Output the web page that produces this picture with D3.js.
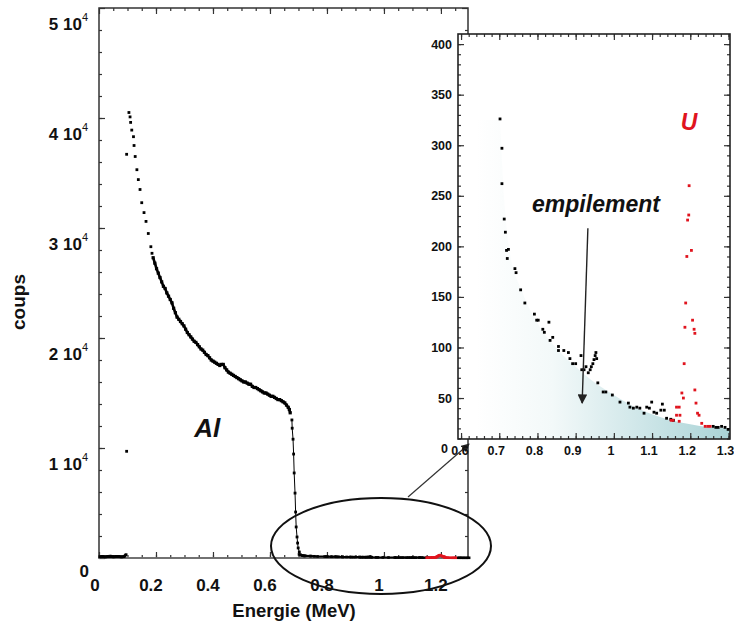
<!DOCTYPE html>
<html><head><meta charset="utf-8">
<script src="https://cdn.jsdelivr.net/npm/d3@7"></script>
<style>body{margin:0;background:#fff} svg{display:block} text{font-family:"Liberation Sans",Arial,sans-serif}</style>
</head><body><svg id="c" width="734" height="631"></svg>
<script>
// ---------- DATA (energy MeV, counts) ----------
const alBaseline = [[0.003,120],[0.012,140],[0.022,110],[0.031,130],[0.041,150],[0.050,120],[0.060,140],[0.069,130],[0.079,110],[0.088,140],[0.095,300]];
const alIsolated = [[0.097,36700],[0.097,9700]];
const alSparse = [[0.105,40500],[0.109,40100],[0.111,39600],[0.115,38900],[0.121,38300],[0.123,37500],[0.127,36500],[0.133,35300],[0.138,34400],[0.144,33500],[0.150,32300],[0.158,31400],[0.165,30600],[0.173,29500],[0.182,28300],[0.186,27700]];
const alDense = [[0.190,27300],[0.196,26800],[0.202,26300],[0.208,25900],[0.214,25500],[0.220,25100],[0.226,24700],[0.232,24500],[0.238,24100],[0.244,23800],[0.250,23500],[0.256,23200],[0.262,22700],[0.268,22300],[0.274,21900],[0.280,21700],[0.286,21500],[0.292,21300],[0.298,21100],[0.304,20800],[0.310,20500],[0.316,20300],[0.322,20100],[0.328,19900],[0.334,19700],[0.340,19600],[0.346,19400],[0.352,19200],[0.358,19000],[0.364,18900],[0.370,18700],[0.376,18500],[0.382,18400],[0.388,18200],[0.394,18000],[0.400,17900],[0.406,17800],[0.412,17700],[0.418,17600],[0.424,17500],[0.430,17600],[0.436,17600],[0.442,17300],[0.448,17100],[0.454,16900],[0.460,16800],[0.466,16700],[0.472,16600],[0.478,16500],[0.484,16400],[0.490,16300],[0.496,16200],[0.502,16100],[0.508,16000],[0.514,16000],[0.520,15900],[0.526,15800],[0.532,15800],[0.538,15600],[0.544,15500],[0.550,15500],[0.556,15400],[0.562,15300],[0.568,15200],[0.574,15100],[0.580,15000],[0.586,15000],[0.592,14900],[0.598,14800],[0.604,14700],[0.610,14700],[0.616,14600],[0.622,14500],[0.628,14400],[0.634,14400],[0.640,14300],[0.646,14200],[0.652,14100],[0.658,13900],[0.664,13700],[0.668,13500],[0.671,13200]];
const alEdge = [[0.677,12550],[0.678,11800],[0.681,10800],[0.683,9450],[0.685,7730],[0.688,5900],[0.690,4180],[0.692,2820],[0.695,1910],[0.697,1360],[0.699,910],[0.703,545]];
const tailBlack = [[0.702,326],[0.707,297],[0.707,262],[0.713,227],[0.716,214],[0.719,196],[0.721,188],[0.724,197],[0.741,178],[0.744,174],[0.756,157],[0.767,144],[0.792,133],[0.798,127],[0.802,127],[0.814,118],[0.818,115],[0.830,125],[0.833,107],[0.840,110],[0.855,101],[0.855,97],[0.869,97],[0.881,95],[0.885,89],[0.892,84],[0.900,84],[0.914,92],[0.916,78],[0.922,78],[0.927,81],[0.933,75],[0.938,78],[0.941,81],[0.945,84],[0.948,88],[0.951,92],[0.953,95],[0.955,89],[0.958,65],[0.972,56],[0.979,56],[0.996,53],[1.016,46],[1.038,45],[1.042,41],[1.051,40],[1.060,41],[1.068,40],[1.079,35],[1.086,41],[1.093,40],[1.099,46],[1.105,36],[1.112,35],[1.123,38],[1.127,44],[1.132,38],[1.138,30],[1.149,29],[1.156,28],[1.260,22],[1.267,21],[1.273,21],[1.282,22],[1.291,21],[1.299,19]];
const uPeak = [[1.150,28],[1.155,28],[1.164,41],[1.164,33],[1.171,41],[1.171,27],[1.173,33],[1.178,55],[1.182,50],[1.184,84],[1.186,120],[1.188,144],[1.191,190],[1.193,226],[1.196,231],[1.197,260],[1.203,196],[1.206,127],[1.210,118],[1.212,114],[1.212,58],[1.215,45],[1.219,35],[1.223,33],[1.230,25],[1.239,22],[1.246,22],[1.252,22]];
const pileupBackground = [[0.640,325],[0.700,325],[0.712,250],[0.725,200],[0.760,155],[0.800,124],[0.850,99],[0.900,81],[0.940,68],[1.000,53],[1.050,42],[1.100,34],[1.150,28],[1.200,24],[1.250,21],[1.304,20]];

const mainXTicks = [0,0.2,0.4,0.6,0.8,1,1.2];
const mainYTicks = [0,10000,20000,30000,40000,50000];
const insetXTicks = [0.6,0.7,0.8,0.9,1,1.1,1.2,1.3];
const insetYTicks = [0,50,100,150,200,250,300,350,400];

// ---------- MAIN CHART ----------
const svg = d3.select("#c");
const M = {l:99, r:468, t:8, b:558};
const x = d3.scaleLinear().domain([0,1.295]).range([M.l,M.r]);
const y = d3.scaleLinear().domain([0,50000]).range([M.b,M.t]);

const main = svg.append("g");
function styleAxis(g){ g.select(".domain").remove(); g.selectAll("line").attr("stroke","#333").attr("stroke-width",1.2); g.selectAll("text").remove(); }
const xMinor = d3.range(0.05,1.29,0.05);
const yMinor = d3.range(2000,50000,2000);
main.append("g").attr("transform",`translate(0,${M.b})`).call(d3.axisBottom(x).tickValues(xMinor).tickSize(-3)).call(styleAxis);
main.append("g").attr("transform",`translate(0,${M.b})`).call(d3.axisBottom(x).tickValues(mainXTicks).tickSize(-6)).call(styleAxis);
main.append("g").attr("transform",`translate(0,${M.t})`).call(d3.axisTop(x).tickValues(xMinor).tickSize(-3)).call(styleAxis);
main.append("g").attr("transform",`translate(0,${M.t})`).call(d3.axisTop(x).tickValues(mainXTicks).tickSize(-6)).call(styleAxis);
main.append("g").attr("transform",`translate(${M.l},0)`).call(d3.axisLeft(y).tickValues(yMinor).tickSize(-3)).call(styleAxis);
main.append("g").attr("transform",`translate(${M.l},0)`).call(d3.axisLeft(y).tickValues(mainYTicks).tickSize(-6)).call(styleAxis);
main.append("g").attr("transform",`translate(${M.r},0)`).call(d3.axisRight(y).tickValues(yMinor).tickSize(-3)).call(styleAxis);
main.append("g").attr("transform",`translate(${M.r},0)`).call(d3.axisRight(y).tickValues(mainYTicks).tickSize(-6)).call(styleAxis);
main.append("rect").attr("x",M.l).attr("y",M.t).attr("width",M.r-M.l).attr("height",M.b-M.t)
  .attr("fill","none").attr("stroke","#333").attr("stroke-width",1.5);
main.append("line").attr("x1",M.l).attr("x2",M.r).attr("y1",M.b).attr("y2",M.b).attr("stroke","#777").attr("stroke-width",1.5);

// tick labels (offset as in reference)
mainXTicks.forEach(v=>{
  main.append("text").attr("x",v===0?x(0)-4:x(v)-5).attr("y",M.b+33).attr("text-anchor","middle")
    .attr("font-size",17).attr("font-weight","bold").attr("fill","#111").text(v===0?"0":String(+v.toFixed(1)));
});
mainYTicks.forEach(v=>{
  if(v===0){
    main.append("text").attr("x",89).attr("y",y(0)+19).attr("text-anchor","end")
      .attr("font-size",17).attr("font-weight","bold").attr("fill","#111").text("0");
    return;
  }
  const t = main.append("text").attr("x",88).attr("y",y(v)+22).attr("text-anchor","end")
    .attr("font-size",17).attr("font-weight","bold").attr("fill","#111");
  t.append("tspan").text(`${v/10000} 10`);
  t.append("tspan").attr("dy",-9).attr("font-size",11).attr("font-weight","normal").text("4");
});
main.append("text").attr("transform",`translate(25,302) rotate(-90)`).attr("text-anchor","middle")
  .attr("font-size",19).attr("font-weight","bold").attr("fill","#111").text("coups");
main.append("text").attr("x",294).attr("y",617).attr("text-anchor","middle")
  .attr("font-size",18.5).attr("font-weight","bold").attr("fill","#111").text("Energie (MeV)");
main.append("text").attr("x",x(0.38)).attr("y",y(11000)).attr("text-anchor","middle")
  .attr("font-size",26).attr("font-weight","bold").attr("font-style","italic").attr("fill","#111").text("Al");

// data
const lineMain = d3.line().x(d=>x(d[0])).y(d=>y(d[1]));
const denseAll = alDense.concat(alEdge);
main.append("path").datum(alBaseline).attr("d",lineMain).attr("fill","none").attr("stroke","#000").attr("stroke-width",3);
main.append("path").datum(alDense).attr("d",lineMain).attr("fill","none").attr("stroke","#000").attr("stroke-width",2.6);
main.append("path").datum(alEdge).attr("d",lineMain).attr("fill","none").attr("stroke","#000").attr("stroke-width",1);
const tailMain = tailBlack.filter(d=>d[0]<1.16);
main.append("path").datum(tailMain).attr("d",lineMain).attr("fill","none").attr("stroke","#000").attr("stroke-width",2);
main.append("path").datum(uPeak.slice().sort((a,b)=>a[0]-b[0])).attr("d",lineMain).attr("fill","none").attr("stroke","#e0141e").attr("stroke-width",2);
main.append("path").datum(tailBlack.filter(d=>d[0]>1.25)).attr("d",lineMain).attr("fill","none").attr("stroke","#000").attr("stroke-width",2);
function squares(g, data, sx, sy, color, s){
  g.append("g").selectAll("rect").data(data).join("rect")
    .attr("x",d=>sx(d[0])-s/2).attr("y",d=>sy(d[1])-s/2).attr("width",s).attr("height",s).attr("fill",color);
}
squares(main, alBaseline.concat(alIsolated, alSparse, alEdge), x, y, "#000", 2.8);
squares(main, alDense, x, y, "#000", 3.2);
squares(main, tailBlack, x, y, "#000", 2.6);
squares(main, uPeak, x, y, "#e0141e", 2.6);

// ellipse + arrow
const defs = svg.append("defs");
defs.append("marker").attr("id","ah").attr("viewBox","0 0 10 10").attr("refX",9).attr("refY",5)
  .attr("markerWidth",7).attr("markerHeight",7).attr("orient","auto")
  .append("path").attr("d","M0,0 L10,5 L0,10 z").attr("fill","#222");
svg.append("ellipse").attr("cx",381).attr("cy",546).attr("rx",110).attr("ry",48)
  .attr("fill","none").attr("stroke","#111").attr("stroke-width",2);
svg.append("line").attr("x1",408).attr("y1",497).attr("x2",469).attr("y2",444)
  .attr("stroke","#333").attr("stroke-width",1.2).attr("marker-end","url(#ah)");

// ---------- INSET ----------
const I = {l:458, r:730, t:34, b:439};
const xi = d3.scaleLinear().domain([0.592,1.304]).range([I.l,I.r]);
const yi = d3.scaleLinear().domain([9.5,410]).range([I.b,I.t]);
const inset = svg.append("g");
inset.append("rect").attr("x",I.l).attr("y",I.t).attr("width",I.r-I.l).attr("height",I.b-I.t).attr("fill","#fff");

const grad = defs.append("linearGradient").attr("id","bg").attr("gradientUnits","userSpaceOnUse")
  .attr("x1",xi(0.64)).attr("x2",xi(1.304)).attr("y1",0).attr("y2",0);
grad.append("stop").attr("offset",0).attr("stop-color","#ffffff");
grad.append("stop").attr("offset",0.3).attr("stop-color","#f3f9f9");
grad.append("stop").attr("offset",0.6).attr("stop-color","#d4e9eb");
grad.append("stop").attr("offset",1).attr("stop-color","#a9d3d6");
inset.append("path").datum(pileupBackground)
  .attr("d",d3.area().x(d=>xi(d[0])).y0(I.b).y1(d=>yi(d[1])).curve(d3.curveMonotoneX))
  .attr("fill","url(#bg)");

const xiMinor = d3.range(0.6,1.301,0.02);
const yiMinor = d3.range(10,410,10);
inset.append("g").attr("transform",`translate(0,${I.b})`).call(d3.axisBottom(xi).tickValues(xiMinor).tickSize(-3)).call(styleAxis);
inset.append("g").attr("transform",`translate(0,${I.b})`).call(d3.axisBottom(xi).tickValues(insetXTicks).tickSize(-6)).call(styleAxis);
inset.append("g").attr("transform",`translate(0,${I.t})`).call(d3.axisTop(xi).tickValues(xiMinor).tickSize(-3)).call(styleAxis);
inset.append("g").attr("transform",`translate(0,${I.t})`).call(d3.axisTop(xi).tickValues(insetXTicks).tickSize(-6)).call(styleAxis);
inset.append("g").attr("transform",`translate(${I.l},0)`).call(d3.axisLeft(yi).tickValues(yiMinor).tickSize(-3)).call(styleAxis);
inset.append("g").attr("transform",`translate(${I.l},0)`).call(d3.axisLeft(yi).tickValues(insetYTicks.filter(v=>v>0)).tickSize(-6)).call(styleAxis);
inset.append("g").attr("transform",`translate(${I.r},0)`).call(d3.axisRight(yi).tickValues(yiMinor).tickSize(-3)).call(styleAxis);
inset.append("g").attr("transform",`translate(${I.r},0)`).call(d3.axisRight(yi).tickValues(insetYTicks.filter(v=>v>0)).tickSize(-6)).call(styleAxis);
inset.append("rect").attr("x",I.l).attr("y",I.t).attr("width",I.r-I.l).attr("height",I.b-I.t)
  .attr("fill","none").attr("stroke","#222").attr("stroke-width",1.6);

insetYTicks.forEach(v=>{
  inset.append("text").attr("x",v===0?448:452).attr("y",yi(v)+4.5).attr("text-anchor","end")
    .attr("font-size",12.5).attr("font-weight","bold").attr("fill","#111").text(v);
});
insetXTicks.forEach(v=>{
  inset.append("text").attr("x",v===0.6?xi(v)-1:xi(v)-3).attr("y",455).attr("text-anchor","middle")
    .attr("font-size",12.5).attr("font-weight","bold").attr("fill","#111").text(String(+v.toFixed(1)));
});

squares(inset, tailBlack, xi, yi, "#000", 2.8);
squares(inset, uPeak, xi, yi, "#e0141e", 2.8);

inset.append("text").attr("x",596).attr("y",212).attr("text-anchor","middle")
  .attr("font-size",23).attr("font-weight","bold").attr("font-style","italic").attr("fill","#111").text("empilement");
inset.append("text").attr("x",689).attr("y",130).attr("text-anchor","middle")
  .attr("font-size",23).attr("font-weight","bold").attr("font-style","italic").attr("fill","#e0141e").text("U");
inset.append("line").attr("x1",xi(0.932)).attr("y1",yi(218)).attr("x2",xi(0.917)).attr("y2",yi(45))
  .attr("stroke","#222").attr("stroke-width",1.4).attr("marker-end","url(#ah)");
</script></body></html>
